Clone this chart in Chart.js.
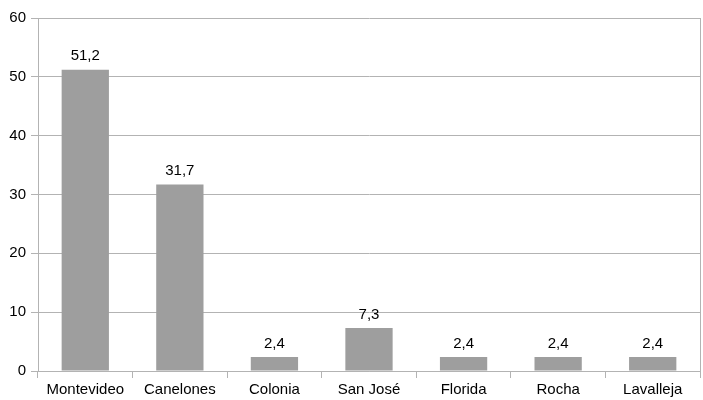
<!DOCTYPE html>
<html>
<head>
<meta charset="utf-8">
<script src="https://cdn.jsdelivr.net/npm/chart.js@4"></script>
<style>
  html, body { margin: 0; padding: 0; background: #fff; }
</style>
</head>
<body>
<canvas id="chartCanvas" width="703" height="400"></canvas>
<script>
const departamentos = ['Montevideo', 'Canelones', 'Colonia', 'San José', 'Florida', 'Rocha', 'Lavalleja'];
const porcentajes = [51.2, 31.7, 2.4, 7.3, 2.4, 2.4, 2.4];
const yTicks = [0, 10, 20, 30, 40, 50, 60];

const gridGray = '#b3b3b3';

// Value labels above each bar, comma as decimal separator
const valueLabels = {
    id: 'valueLabels',
    afterDatasetsDraw(chart) {
        const ctx = chart.ctx;
        const meta = chart.getDatasetMeta(0);
        ctx.save();
        ctx.font = '15px "Liberation Sans", Arial, sans-serif';
        ctx.fillStyle = '#000';
        ctx.textAlign = 'center';
        ctx.textBaseline = 'bottom';
        meta.data.forEach((bar, i) => {
            const text = porcentajes[i].toFixed(1).replace('.', ',');
            ctx.fillText(text, bar.x, bar.y - 6);
        });
        ctx.restore();
    }
};

Chart.defaults.font.family = '"Liberation Sans", Arial, sans-serif';
Chart.defaults.font.size = 15;
Chart.defaults.color = '#000';

const config = {
    type: 'bar',
    data: {
        labels: departamentos,
        datasets: [{
            data: porcentajes,
            backgroundColor: '#9e9e9e',
            barPercentage: 0.5,
            categoryPercentage: 1
        }]
    },
    options: {
        responsive: false,
        animation: false,
        layout: {
            padding: { top: 18, right: 3, left: 0, bottom: 0 }
        },
        plugins: {
            legend: { display: false },
            tooltip: { enabled: false }
        },
        scales: {
            x: {
                grid: {
                    offset: true,
                    drawOnChartArea: true,
                    tickLength: 7,
                    tickColor: gridGray,
                    // only the right edge goes up through the plot
                    color: ctx => ctx.type === 'scale' ? gridGray : 'rgba(0,0,0,0)'
                },
                border: { color: gridGray },
                ticks: { padding: 3, maxRotation: 0 },
                afterFit: scale => { scale.height = 29; }
            },
            y: {
                min: 0,
                max: 60,
                afterBuildTicks: scale => {
                    scale.ticks = yTicks.map(v => ({ value: v }));
                },
                grid: {
                    color: gridGray,
                    tickLength: 7
                },
                border: { color: gridGray },
                ticks: { padding: 5 },
                afterFit: scale => { scale.width = 38; }
            }
        }
    },
    plugins: [valueLabels]
};

const ctx = document.getElementById('chartCanvas').getContext('2d');
new Chart(ctx, config);
</script>
</body>
</html>
